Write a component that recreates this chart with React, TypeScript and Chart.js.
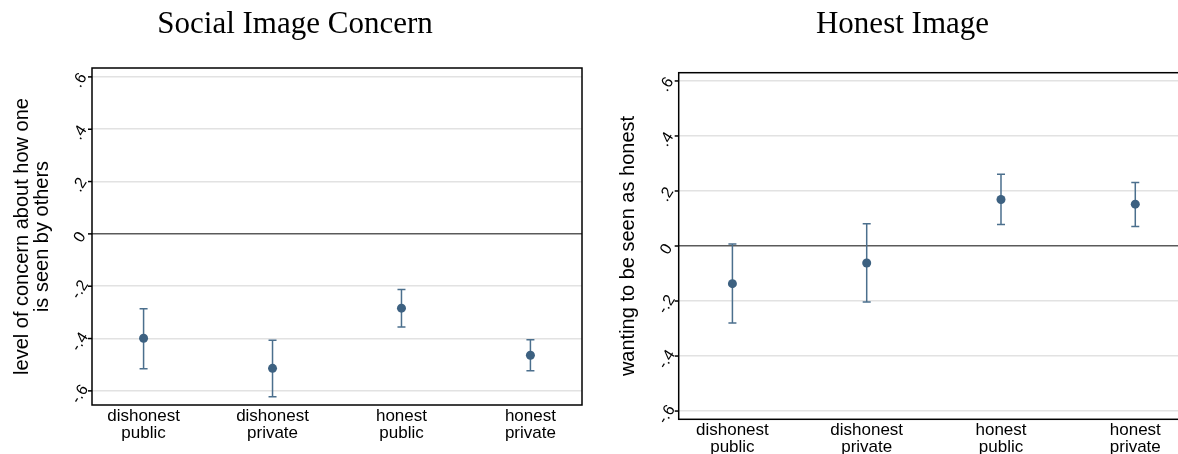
import React, { useEffect, useRef } from "react";
import { Chart, registerables } from "chart.js";

Chart.register(...registerables);

// Category labels (two lines each) shared by both panels
const categories: string[][] = [
  ["dishonest", "public"],
  ["dishonest", "private"],
  ["honest", "public"],
  ["honest", "private"],
];
const categoryPos = [1, 2, 3, 4];

const yTicks = [-0.6, -0.4, -0.2, 0, 0.2, 0.4, 0.6];
const yTickLabels = ["-.6", "-.4", "-.2", "0", ".2", ".4", ".6"];

// Social image concern: means with 95% CI bounds
const concernMean = [-0.399, -0.514, -0.284, -0.464];
const concernLow = [-0.515, -0.622, -0.356, -0.523];
const concernHigh = [-0.286, -0.407, -0.213, -0.405];

// Honest image: means with 95% CI bounds
const honestMean = [-0.137, -0.062, 0.169, 0.152];
const honestLow = [-0.28, -0.204, 0.078, 0.071];
const honestHigh = [0.007, 0.081, 0.261, 0.231];

const MARKER = "#3d6181";
const BAR = "#4b6f8d";
const SANS = "'Liberation Sans', Arial, sans-serif";
const SERIF = "'Liberation Serif', 'Times New Roman', serif";

type PanelCfg = {
  title: string;
  titleX: number;
  yTitle: string[];
  yTitleX: number[];
  mean: number[];
  low: number[];
  high: number[];
  yMin: number;
  yMax: number;
  xMax: number;
  padding: { left: number; right: number; top: number; bottom: number };
};

function makePanelPlugin(cfg: PanelCfg) {
  return {
    id: "panelDecor",
    beforeDatasetsDraw(chart: any) {
      const { ctx } = chart;
      const xs = chart.scales.x;
      const ys = chart.scales.y;
      ctx.save();
      ctx.strokeStyle = BAR;
      ctx.lineWidth = 1.5;
      for (let i = 0; i < cfg.mean.length; i++) {
        const px = xs.getPixelForValue(categoryPos[i]);
        const pl = ys.getPixelForValue(cfg.low[i]);
        const ph = ys.getPixelForValue(cfg.high[i]);
        ctx.beginPath();
        ctx.moveTo(px, pl);
        ctx.lineTo(px, ph);
        ctx.moveTo(px - 4, pl);
        ctx.lineTo(px + 4, pl);
        ctx.moveTo(px - 4, ph);
        ctx.lineTo(px + 4, ph);
        ctx.stroke();
      }
      ctx.restore();
    },
    afterDraw(chart: any) {
      const { ctx, chartArea } = chart;
      const xs = chart.scales.x;
      const ys = chart.scales.y;
      const { left, right, top, bottom } = chartArea;
      ctx.save();

      // plot frame
      ctx.strokeStyle = "#000";
      ctx.lineWidth = 1.5;
      ctx.strokeRect(left, top, right - left, bottom - top);

      // y tick marks and rotated tick labels
      ctx.fillStyle = "#000";
      ctx.font = `16px ${SANS}`;
      ctx.textAlign = "center";
      ctx.textBaseline = "middle";
      yTicks.forEach((v, i) => {
        const py = ys.getPixelForValue(v);
        ctx.beginPath();
        ctx.moveTo(left - 4, py);
        ctx.lineTo(left, py);
        ctx.stroke();
        ctx.save();
        ctx.translate(left - 12, py + 3.5);
        ctx.rotate((-58 * Math.PI) / 180);
        ctx.fillText(yTickLabels[i], 0, 0);
        ctx.restore();
      });

      // category labels
      ctx.font = `17px ${SANS}`;
      categories.forEach((lines, i) => {
        const px = xs.getPixelForValue(categoryPos[i]);
        ctx.fillText(lines[0], px, bottom + 11);
        ctx.fillText(lines[1], px, bottom + 28);
      });

      // y axis title
      ctx.font = `20px ${SANS}`;
      const midY = (top + bottom) / 2;
      cfg.yTitle.forEach((line, i) => {
        ctx.save();
        ctx.translate(cfg.yTitleX[i], midY);
        ctx.rotate(-Math.PI / 2);
        ctx.fillText(line, 0, 0);
        ctx.restore();
      });

      // panel title
      ctx.font = `31px ${SERIF}`;
      ctx.textBaseline = "alphabetic";
      ctx.fillText(cfg.title, cfg.titleX, 33);
      ctx.restore();
    },
  };
}

function Panel({ cfg, width, left }: { cfg: PanelCfg; width: number; left: number }) {
  const ref = useRef<HTMLCanvasElement | null>(null);
  useEffect(() => {
    if (!ref.current) return;
    const chart = new Chart(ref.current, {
      type: "scatter",
      data: {
        datasets: [
          {
            data: cfg.mean.map((m, i) => ({ x: categoryPos[i], y: m })),
            backgroundColor: MARKER,
            borderColor: MARKER,
            pointRadius: 4.5,
            pointHoverRadius: 4.5,
            pointBorderWidth: 0,
          },
        ],
      },
      options: {
        animation: false,
        responsive: false,
        devicePixelRatio: 1,
        layout: { padding: cfg.padding },
        plugins: { legend: { display: false }, tooltip: { enabled: false }, title: { display: false } },
        scales: {
          x: {
            type: "linear",
            display: false,
            min: 0.6,
            max: cfg.xMax,
          },
          y: {
            type: "linear",
            min: cfg.yMin,
            max: cfg.yMax,
            afterBuildTicks: (scale: any) => {
              scale.ticks = yTicks.map((v) => ({ value: v }));
            },
            ticks: { display: false },
            border: { display: false },
            grid: {
              drawTicks: false,
              lineWidth: 1.5,
              color: (c: any) => (c.tick && c.tick.value === 0 ? "#5a5a5a" : "#e2e2e2"),
            },
          },
        },
      },
      plugins: [makePanelPlugin(cfg)],
    });
    return () => chart.destroy();
  }, [cfg]);
  return (
    <canvas
      ref={ref}
      width={width}
      height={454}
      style={{ position: "absolute", left, top: 0, width, height: 454 }}
    />
  );
}

const concernPanel: PanelCfg = {
  title: "Social Image Concern",
  titleX: 295,
  yTitle: ["level of concern about how one", "is seen by others"],
  yTitleX: [22, 42],
  mean: concernMean,
  low: concernLow,
  high: concernHigh,
  yMin: -0.654,
  yMax: 0.634,
  xMax: 4.4,
  padding: { left: 92, right: 8, top: 68, bottom: 49 },
};

const honestPanel: PanelCfg = {
  title: "Honest Image",
  titleX: 312.5,
  yTitle: ["wanting to be seen as honest"],
  yTitleX: [38],
  mean: honestMean,
  low: honestLow,
  high: honestHigh,
  yMin: -0.63,
  yMax: 0.63,
  xMax: 4.4,
  padding: { left: 88.7, right: 11, top: 72.7, bottom: 34.7 },
};

export default function App() {
  return (
    <div
      style={{
        position: "fixed",
        left: 0,
        top: 0,
        width: 1178,
        height: 454,
        overflow: "hidden",
        background: "#fff",
      }}
    >
      <Panel cfg={concernPanel} width={590} left={0} />
      <Panel cfg={honestPanel} width={610} left={590} />
    </div>
  );
}
